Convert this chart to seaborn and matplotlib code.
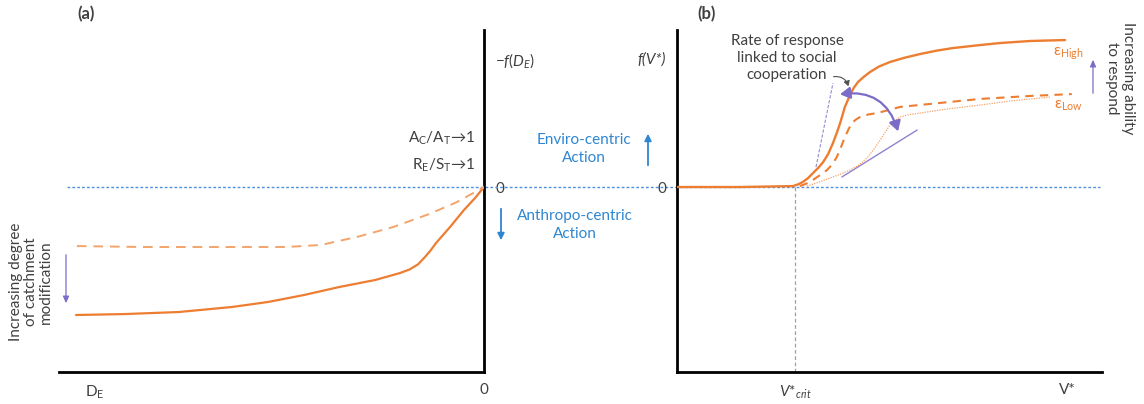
import matplotlib
matplotlib.use("Agg")
import matplotlib.pyplot as plt
import seaborn as sns
import numpy as np
import pandas as pd
from matplotlib.patches import FancyArrowPatch

# ---------------- data ----------------
# Panel (a): x = -D_E (0 at the right axis), y = -f(D_E)
a_solid_x = [-0.96, -0.845, -0.718, -0.593, -0.508, -0.424, -0.341, -0.256, -0.198, -0.175,
             -0.155, -0.139, -0.126, -0.113, -0.080, -0.047, -0.021, 0.0]
a_solid_y = [-0.815, -0.809, -0.796, -0.764, -0.732, -0.688, -0.637, -0.592, -0.548, -0.525,
             -0.492, -0.446, -0.405, -0.357, -0.255, -0.146, -0.070, 0.0]
a_dash_x = [-0.958, -0.802, -0.635, -0.466, -0.384, -0.299, -0.214, -0.129, -0.064, -0.021, 0.0]
a_dash_y = [-0.376, -0.382, -0.382, -0.382, -0.369, -0.318, -0.255, -0.172, -0.096, -0.032, 0.0]

# Panel (b): x = V*, y = f(V*)
b_high_x = [0.0, 0.148, 0.273, 0.285, 0.296, 0.308, 0.320, 0.332, 0.344, 0.356, 0.367, 0.376,
            0.384, 0.395, 0.407, 0.416, 0.426, 0.440, 0.454, 0.475, 0.501, 0.535, 0.572, 0.610,
            0.649, 0.713, 0.760, 0.831, 0.913]
b_high_y = [0.0, 0.0, 0.006, 0.017, 0.032, 0.056, 0.089, 0.121, 0.159, 0.212, 0.280, 0.345,
            0.408, 0.510, 0.585, 0.632, 0.669, 0.703, 0.732, 0.767, 0.796, 0.823, 0.847, 0.868,
            0.885, 0.904, 0.917, 0.930, 0.936]
b_low_x = [0.289, 0.305, 0.320, 0.336, 0.353, 0.366, 0.376, 0.386, 0.395, 0.404, 0.412, 0.421,
           0.431, 0.450, 0.471, 0.525, 0.595, 0.713, 0.831, 0.929]
b_low_y = [0.006, 0.022, 0.045, 0.075, 0.108, 0.146, 0.191, 0.255, 0.318, 0.370, 0.408, 0.430,
           0.446, 0.462, 0.471, 0.510, 0.529, 0.561, 0.580, 0.592]
b_slow_x = [0.306, 0.333, 0.360, 0.384, 0.407, 0.428, 0.447, 0.463, 0.478, 0.490, 0.501, 0.513,
            0.525, 0.548, 0.572, 0.635, 0.713, 0.784, 0.878]
b_slow_y = [0.006, 0.030, 0.057, 0.082, 0.108, 0.140, 0.185, 0.240, 0.299, 0.350, 0.395, 0.425,
            0.446, 0.462, 0.471, 0.497, 0.522, 0.548, 0.573]

tangent_fast_x = [0.327, 0.367]
tangent_fast_y = [0.127, 0.662]
tangent_slow_x = [0.388, 0.565]
tangent_slow_y = [0.064, 0.363]

v_crit = 0.278
v_star = 0.918
d_e = -0.915
f_top = 0.82
zero_line_x = [-0.981, 1.449]

a_ticks_x = [d_e, 0.0]
a_ticklabels_x = ["D$_\\mathrm{E}$", "0"]
a_ticks_y = [0.0, f_top]
a_ticklabels_y = ["0", "$-f(D_E)$"]
b_ticks_x = [v_crit, v_star]
b_ticklabels_x = ["$V$*$_{crit}$", "V*"]
b_ticks_y = [0.0, f_top]
b_ticklabels_y = ["0", "f(V*)"]

# ---------------- style ----------------
sns.set_theme(style="white")
plt.rcParams["font.family"] = ["Lato", "DejaVu Sans"]
plt.rcParams["mathtext.fontset"] = "custom"
plt.rcParams["mathtext.rm"] = "Lato"
plt.rcParams["mathtext.it"] = "Lato:italic"
plt.rcParams["mathtext.bf"] = "Lato:bold"

ORANGE = "#ED7D31"
ORANGE_LIGHT = "#F4A46A"
BLUE = "#2E86D1"
ZBLUE = "#4F8FE0"
PURPLE = "#7B6CC8"
TXT = "#404040"
FS = 11

W, H = 1144, 404
fig = plt.figure(figsize=(W / 100, H / 100), dpi=100)

def fx(px):
    return px / W

def fy(py):
    return 1 - py / H

ax_a = fig.add_axes([fx(59), fy(372), (484 - 59) / W, (372 - 30) / H])
ax_b = fig.add_axes([fx(677), fy(372), (1102 - 677) / W, (372 - 30) / H])
for ax in (ax_a, ax_b):
    ax.set_facecolor("none")
    ax.set_ylim(-1.178, 1.0)
    ax.grid(False)
ax_a.set_xlim(-1.0, 0.0)
ax_b.set_xlim(0.0, 1.0)

# spines
for s in ["left", "top"]:
    ax_a.spines[s].set_visible(False)
for s in ["right", "top"]:
    ax_b.spines[s].set_visible(False)
for ax, sides in ((ax_a, ["right", "bottom"]), (ax_b, ["left", "bottom"])):
    for s in sides:
        ax.spines[s].set_color("black")
        ax.spines[s].set_linewidth(2.0)

# zero line across both panels
ax_a.plot(zero_line_x, [0, 0], ls=(0, (2.0, 1.5)), color=ZBLUE, lw=1.0, clip_on=False, zorder=1)

# ---------------- panel (a) curves ----------------
da_s = pd.DataFrame({"x": a_solid_x, "y": a_solid_y})
da_d = pd.DataFrame({"x": a_dash_x, "y": a_dash_y})
sns.lineplot(data=da_s, x="x", y="y", ax=ax_a, color=ORANGE, lw=1.6, sort=False, estimator=None, zorder=3)
sns.lineplot(data=da_d, x="x", y="y", ax=ax_a, color=ORANGE_LIGHT, lw=1.4, sort=False, estimator=None,
             linestyle=(0, (5, 3.5)), zorder=3)

# ---------------- panel (b) curves ----------------
db_h = pd.DataFrame({"x": b_high_x, "y": b_high_y})
db_l = pd.DataFrame({"x": b_low_x, "y": b_low_y})
db_s = pd.DataFrame({"x": b_slow_x, "y": b_slow_y})
sns.lineplot(data=db_h, x="x", y="y", ax=ax_b, color=ORANGE, lw=1.7, sort=False, estimator=None, zorder=4)
sns.lineplot(data=db_l, x="x", y="y", ax=ax_b, color=ORANGE, lw=1.5, sort=False, estimator=None,
             linestyle=(0, (4, 3)), zorder=4)
sns.lineplot(data=db_s, x="x", y="y", ax=ax_b, color=ORANGE_LIGHT, lw=0.9, sort=False, estimator=None,
             linestyle=(0, (1, 1)), zorder=4)
ax_b.plot(tangent_fast_x, tangent_fast_y, color=PURPLE, lw=0.8, ls=(0, (3, 1.5)), alpha=0.8, zorder=3)
ax_b.plot(tangent_slow_x, tangent_slow_y, color=PURPLE, lw=1.0, alpha=0.85, zorder=3)
ax_b.plot([v_crit, v_crit], [0, -1.178], color="#A0A0A0", lw=0.9, ls=(0, (3, 2)), zorder=2, clip_on=False)

# curved double arrow
arr = FancyArrowPatch((0.377, 0.588), (0.522, 0.338), transform=ax_b.transData,
                      connectionstyle="arc3,rad=-0.45", arrowstyle="<|-|>,head_length=6,head_width=3.5",
                      color=PURPLE, lw=1.6, zorder=5)
ax_b.add_patch(arr)
# small curved arrow from "cooperation"
arr2 = FancyArrowPatch((0.362, 0.70), (0.405, 0.625), transform=ax_b.transData,
                       connectionstyle="arc3,rad=-0.5", arrowstyle="-|>,head_length=3,head_width=1.8",
                       color="#505050", lw=0.8, zorder=5)
ax_b.add_patch(arr2)

# ---------------- ticks ----------------
ax_a.yaxis.tick_right()
ax_a.set_xticks(a_ticks_x, a_ticklabels_x)
ax_a.set_yticks(a_ticks_y, a_ticklabels_y)
ax_b.set_xticks(b_ticks_x, b_ticklabels_x)
ax_b.set_yticks(b_ticks_y, b_ticklabels_y)
for ax in (ax_a, ax_b):
    ax.tick_params(axis="both", length=0, labelsize=FS, labelcolor=TXT, pad=8)
for lab in ax_b.get_yticklabels():
    if lab.get_text().startswith("f"):
        lab.set_fontstyle("italic")
ax_a.set_xlabel("")
ax_a.set_ylabel("")
ax_b.set_xlabel("")
ax_b.set_ylabel("")

# ---------------- texts & annotation arrows (figure coordinates) ----------------
fig.text(fx(86), fy(14), "(a)", fontsize=12, fontweight="bold", color=TXT, ha="center", va="center")
fig.text(fx(707), fy(14), "(b)", fontsize=12, fontweight="bold", color=TXT, ha="center", va="center")

fig.text(fx(475), fy(138), "A$_\\mathrm{C}$/A$_\\mathrm{T}$\u21921", fontsize=FS, color=TXT,
         ha="right", va="center", family=["Lato", "DejaVu Sans"])
fig.text(fx(475), fy(165), "R$_\\mathrm{E}$/S$_\\mathrm{T}$\u21921", fontsize=FS, color=TXT,
         ha="right", va="center", family=["Lato", "DejaVu Sans"])

fig.text(fx(584), fy(149), "Enviro-centric\nAction", fontsize=FS, color=BLUE, ha="center", va="center",
         linespacing=1.35)
fig.text(fx(575), fy(225), "Anthropo-centric\nAction", fontsize=FS, color=BLUE, ha="center", va="center",
         linespacing=1.35)
fig.add_artist(FancyArrowPatch((fx(648), fy(168)), (fx(648), fy(131)), transform=fig.transFigure,
                               arrowstyle="-|>,head_length=4,head_width=2", color=BLUE, lw=1.3))
fig.add_artist(FancyArrowPatch((fx(501), fy(206)), (fx(501), fy(243)), transform=fig.transFigure,
                               arrowstyle="-|>,head_length=4,head_width=2", color=BLUE, lw=1.3))

fig.text(fx(31), fy(282), "Increasing degree\nof catchment\nmodification", fontsize=FS, color=TXT,
         rotation=90, ha="center", va="center", linespacing=1.1)
fig.add_artist(FancyArrowPatch((fx(66), fy(252)), (fx(66), fy(306)), transform=fig.transFigure,
                               arrowstyle="-|>,head_length=4,head_width=1.8", color=PURPLE, lw=0.9))

fig.text(fx(1120), fy(78), "Increasing ability\nto respond", fontsize=FS, color=TXT,
         rotation=-90, ha="center", va="center", linespacing=1.1)
fig.add_artist(FancyArrowPatch((fx(1093), fy(96)), (fx(1093), fy(57)), transform=fig.transFigure,
                               arrowstyle="-|>,head_length=4,head_width=1.8", color=PURPLE, lw=0.9))

fig.text(fx(787), fy(58), "Rate of response\nlinked to social\ncooperation", fontsize=FS, color=TXT,
         ha="center", va="center", linespacing=1.25)

fig.text(fx(1068), fy(54), "\u03b5$_\\mathrm{High}$", fontsize=FS, color=ORANGE, ha="center", va="center",
         family=["Lato", "DejaVu Sans"])
fig.text(fx(1068), fy(106), "\u03b5$_\\mathrm{Low}$", fontsize=FS, color=ORANGE, ha="center", va="center",
         family=["Lato", "DejaVu Sans"])

fig.savefig("out.png", dpi=100)
